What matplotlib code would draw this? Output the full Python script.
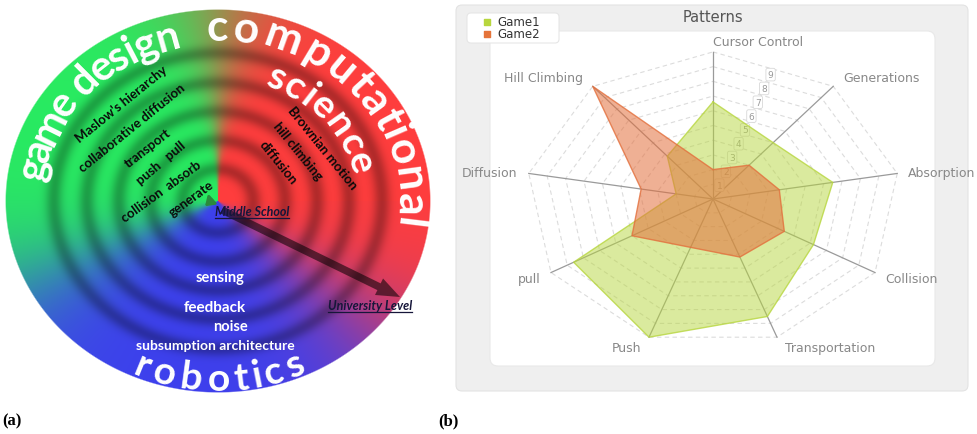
import numpy as np
import matplotlib.pyplot as plt
from matplotlib.patches import FancyBboxPatch
from matplotlib.font_manager import FontProperties

# ---------------- panel (b) data ----------------
categories = ["Cursor Control", "Generations", "Absorption", "Collision",
              "Transportation", "Push", "pull", "Diffusion", "Hill Climbing"]
game1 = [6.6, 5.0, 6.5, 6.2, 8.5, 10.0, 8.6, 2.0, 3.8]
game2 = [2.0, 3.0, 3.6, 4.4, 4.2, 3.5, 5.0, 3.9, 10.0]
tick_values = [1, 2, 3, 4, 5, 6, 7, 8, 9]
r_max = 10

# ---------------- panel (a) text ----------------
game_terms = ["Maslow's hierarchy", "collaborative diffusion", "transport",
              "push   pull", "collision  absorb", "generate"]
cs_terms = ["Brownian motion", "hill climbing", "diffusion"]
robot_terms = ["sensing", "feedback", "noise", "subsumption architecture"]

GREEN = np.array([0.16, 0.92, 0.38])
RED = np.array([1.0, 0.24, 0.24])
BLUE = np.array([0.24, 0.25, 0.93])

fig = plt.figure(figsize=(9.77, 4.35), dpi=100)
fig.patch.set_facecolor("white")
renderer = fig.canvas.get_renderer()

# base axes in pixel coordinates (y down)
ax0 = fig.add_axes([0, 0, 1, 1])
ax0.axis("off")

# ---- the gradient disc of panel (a)
cx, cy, rx, ry = 218, 202, 213, 192
X, Y = np.meshgrid(np.arange(440) + 0.5, np.arange(400) + 0.5)
dx = (X - cx) / rx
dy = (cy - Y) / ry
rho = np.hypot(dx, dy)
phi = np.degrees(np.arctan2(dy, dx)) % 360


def sig(v):
    return 1.0 / (1.0 + np.exp(-v))


t1 = sig((phi - 90) / (1 + 8 * rho))[..., None]
t2 = sig((phi - 205) / 9)[..., None]
t3 = sig((phi - 318) / 10)[..., None]
c1 = RED * (1 - t1) + GREEN * t1
c2 = GREEN * (1 - t2) + BLUE * t2
c3 = BLUE * (1 - t3) + RED * t3
rgb = np.where((phi < 147.5)[..., None], c1, np.where((phi < 261)[..., None], c2, c3))

shade = np.ones_like(rho)
for rk in [0.165, 0.315, 0.465, 0.615, 0.77]:
    shade -= 0.3 * np.exp(-((rho - rk) / 0.04) ** 2)
rgb = rgb * shade[..., None]
alpha = np.clip((1 - rho) * 150, 0, 1)
img = np.dstack([np.clip(rgb, 0, 1), alpha])
ax0.imshow(img, extent=(0, 440, 400, 0), aspect="auto", interpolation="bilinear", zorder=1)
ax0.set_xlim(0, 977)
ax0.set_ylim(435, 0)


def arc_text(s, phi0, phi1, rr, size, clockwise=True):
    fp = FontProperties(family="Lato", weight="bold", size=size)
    base = renderer.get_text_width_height_descent("aa", fp, ismath=False)[0]
    widths = np.array([renderer.get_text_width_height_descent("a" + c + "a", fp, ismath=False)[0] - base
                       for c in s])
    span = phi1 - phi0
    pos = (np.cumsum(widths) - widths / 2) / widths.sum()
    for c, p in zip(s, pos):
        a = phi0 + span * p
        x = cx + rr * rx * np.cos(np.radians(a))
        y = cy - rr * ry * np.sin(np.radians(a))
        rot = a - 90 if clockwise else a + 90
        ax0.text(x, y, c, fontproperties=fp, color="white", ha="center", va="center",
                 rotation=rot, rotation_mode="anchor", zorder=5)


arc_text("game design", 172, 102, 0.885, 30)
arc_text("computational", 94, -9, 0.905, 32)
arc_text("science", 71, 12, 0.70, 28)
arc_text("robotics", 245, 296, 0.925, 28, clockwise=False)

game_pos = [(121, 105, 39), (132, 128, 39), (148, 148, 38), (161, 163, 40), (161, 192, 36), (191, 199, 36)]
for s, (x, y, r) in zip(game_terms, game_pos):
    ax0.text(x, y, s, family="Lato", weight="bold", fontsize=9.5, color="#0a0a0a",
             ha="center", va="center", rotation=r, rotation_mode="anchor", zorder=5)

cs_pos = [(322, 148, -51), (298, 152, -51), (278, 163, -51)]
for s, (x, y, r) in zip(cs_terms, cs_pos):
    ax0.text(x, y, s, family="Lato", weight="bold", fontsize=9.5, color="#0a0a0a",
             ha="center", va="center", rotation=r, rotation_mode="anchor", zorder=5)

robot_pos = [(220, 278, 10.5), (215, 308, 11), (230, 327, 10.5), (215, 346, 10)]
for s, (x, y, fs) in zip(robot_terms, robot_pos):
    ax0.text(x, y, s, family="Lato", weight="bold", fontsize=fs, color="white",
             ha="center", va="center", zorder=5)

# arrows
ax0.annotate("", xy=(400, 298), xytext=(222, 211), zorder=4,
             arrowprops=dict(arrowstyle="simple,head_length=1.4,head_width=1.1,tail_width=0.45",
                             fc="black", ec="none", alpha=0.55, mutation_scale=12,
                             shrinkA=0, shrinkB=0))
ax0.annotate("", xy=(203, 209), xytext=(214, 199), zorder=4,
             arrowprops=dict(arrowstyle="-|>,head_length=0.5,head_width=0.35", color="#2b8a3c", lw=2))

for s, (x, y) in zip(["Middle School", "University Level"], [(215, 212), (328, 306)]):
    t = ax0.text(x, y, s, family="Lato", weight="bold", style="italic", fontsize=9,
                 color="#16163a", ha="left", va="center", zorder=6)
    bb = t.get_window_extent(renderer=renderer)
    ax0.plot([bb.x0, bb.x1], [435 - bb.y0 + 1, 435 - bb.y0 + 1], color="#16163a", lw=0.9, zorder=6)

# ---- panel (b) frame
ax0.add_patch(FancyBboxPatch((456, 6), 512, 386, boxstyle="round,pad=0,rounding_size=6",
                             fc="#efefef", ec="#e3e3e3", lw=0.8, zorder=1))
ax0.add_patch(FancyBboxPatch((490, 32), 445, 335, boxstyle="round,pad=0,rounding_size=8",
                             fc="white", ec="#e8e8e8", lw=0.8, zorder=2))
ax0.text(713, 17, "Patterns", ha="center", va="center", fontsize=10.5, color="#555555", zorder=3)

# legend
ax0.add_patch(FancyBboxPatch((467, 14), 92, 30, boxstyle="round,pad=0,rounding_size=4",
                             fc="white", ec="#e6e6e6", lw=0.8, zorder=3))
for k, (name, col) in enumerate(zip(["Game1", "Game2"], ["#b7d63e", "#e5743a"])):
    yy = 23 + 12 * k
    ax0.scatter([487], [yy], marker="s", s=14, color=col, zorder=4)
    ax0.text(497, yy, name, ha="left", va="center", fontsize=8.5, color="#333333", zorder=4)

# ---- radar chart
rad = fig.add_axes([488.5 / 977, 58.5 / 435, 449 / 977, 353 / 435])
rad.set_xlim(-12, 12)
rad.set_ylim(-12, 12)
rad.axis("off")
rad.patch.set_alpha(0)

theta = np.radians(90 - 40 * np.arange(len(categories)))
cos_t, sin_t = np.cos(theta), np.sin(theta)

for lev in range(1, r_max + 1):
    rad.plot(np.append(lev * cos_t, lev * cos_t[0]), np.append(lev * sin_t, lev * sin_t[0]),
             color="#dcdcdc", lw=0.8, ls=(0, (4, 3)), zorder=1)
for c, s in zip(cos_t, sin_t):
    rad.plot([0, r_max * c], [0, r_max * s], color="#9a9a9a", lw=0.9, zorder=2)

ta = np.radians(70)
for k in tick_values:
    rad.text(k * np.cos(ta), k * np.sin(ta), str(k), fontsize=6.5, color="#9a9a9a",
             ha="center", va="center", zorder=2,
             bbox=dict(boxstyle="round,pad=0.2", fc="white", ec="#d8d8d8", lw=0.6))

for vals, col, a in [(game1, "#b7d63e", 0.5), (game2, "#e36f3c", 0.55)]:
    v = np.array(vals)
    xs, ys = v * cos_t, v * sin_t
    rad.fill(xs, ys, color=col, alpha=a, lw=0, zorder=3)
    rad.plot(np.append(xs, xs[0]), np.append(ys, ys[0]), color=col, lw=1, alpha=0.8, zorder=3)

for name, c, s in zip(categories, cos_t, sin_t):
    ha = "left" if c > -1e-6 else "right"
    va = "bottom" if s > 0.7 else ("top" if s < -0.7 else "center")
    off = 0.35 if ha == "left" else -0.35
    x = 10.25 * c + (off if abs(c) > 1e-6 else 0)
    y = 10.25 * s - (0.3 if va == "center" and s < 0 else 0)
    rad.text(x, y, name, ha=ha, va=va, fontsize=9, color="#888888", zorder=4)

fig.text(2 / 977, 1 - 421 / 435, "(a)", family="Liberation Serif", weight="bold", fontsize=12, va="center")
fig.text(438 / 977, 1 - 421 / 435, "(b)", family="Liberation Serif", weight="bold", fontsize=12, va="center")

fig.savefig("out.png", dpi=100)
